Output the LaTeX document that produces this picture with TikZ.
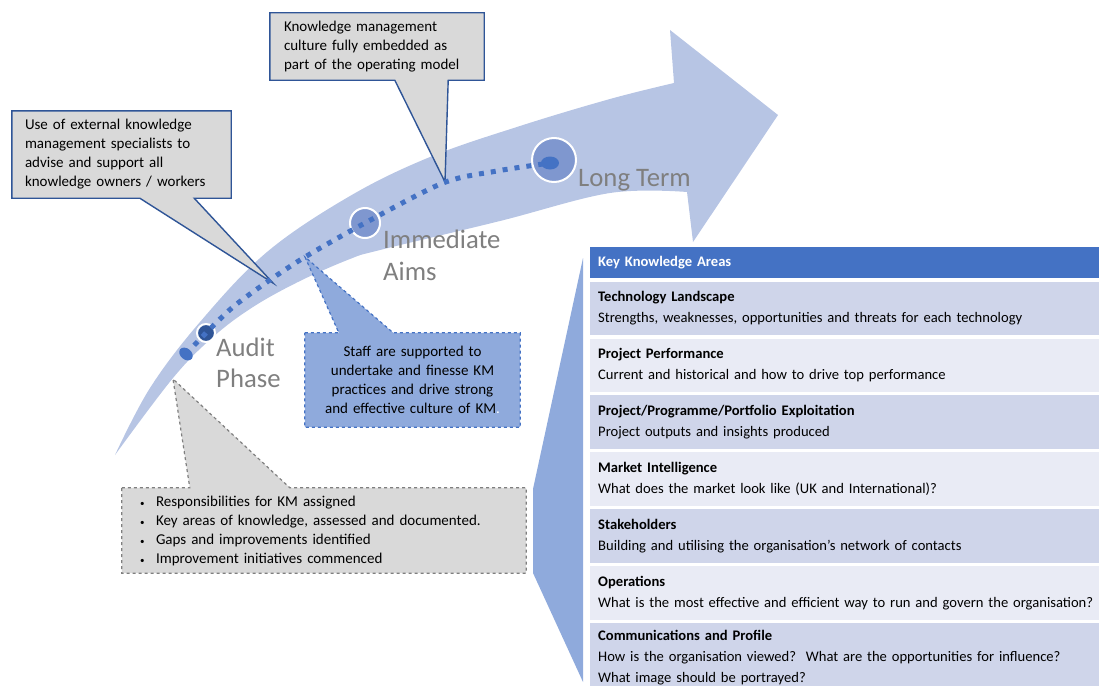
\documentclass[tikz,border=0pt]{standalone}
\usepackage{fontspec}
\setmainfont{Carlito}
\usetikzlibrary{positioning,backgrounds}

\definecolor{bandblue}{RGB}{183,197,228}
\definecolor{kablue}{RGB}{68,114,196}
\definecolor{midblue}{RGB}{143,170,220}
\definecolor{darkblue}{RGB}{47,85,151}
\definecolor{dotblue}{RGB}{127,151,207}
\definecolor{callgray}{RGB}{217,217,217}
\definecolor{rowdark}{RGB}{207,213,234}
\definecolor{rowlight}{RGB}{233,235,245}
\definecolor{phasegray}{RGB}{127,127,127}

\tikzstyle{note} = [rectangle, inner ysep=0pt, align=left, font=\fontsize{15}{19}\selectfont]
\tikzstyle{callout} = [fill=callgray, draw=darkblue, line width=1.4pt, line join=miter]
\tikzstyle{phase} = [text=phasegray, inner sep=0pt, font=\fontsize{26.7}{31}\selectfont]
\tikzstyle{stage} = [circle, fill=dotblue, draw=white, line width=2pt, inner sep=0pt]
\tikzstyle{area} = [rectangle, minimum width=526pt, minimum height=53.5pt, text width=510pt, inner xsep=8pt, inner ysep=0pt, align=left, font=\fontsize{14.6}{21}\selectfont]

\begin{document}
\begin{tikzpicture}[x=1pt,y=-1pt]
\useasboundingbox (0,0) rectangle (1099,685);

% callout boxes
\node[note, text width=186pt, inner xsep=14pt, minimum height=67pt] (Culture) at (377,46.5)
{Knowledge management\\culture fully embedded as\\part of the operating model};
\node[note, text width=193pt, inner xsep=13pt, minimum height=87pt] (External) at (121.5,154.5)
{Use of external knowledge\\management specialists to\\advise and support all\\knowledge owners / workers};
\node[note, align=center, text width=195pt, inner xsep=10pt, minimum height=94pt] (Staff) at (412.5,380)
{Staff are supported to\\undertake and finesse KM\\practices and drive strong\\and effective culture of KM{\color{white}.}};
\node[note, text width=368pt, inner xsep=18pt, minimum height=85pt] (Audit) at (324,530.5)
{\makebox[16pt][l]{\small\textbullet}Responsibilities for KM assigned\\
 \makebox[16pt][l]{\small\textbullet}Key areas of knowledge, assessed and documented.\\
 \makebox[16pt][l]{\small\textbullet}Gaps and improvements identified\\
 \makebox[16pt][l]{\small\textbullet}Improvement initiatives commenced};

\coordinate (CultureTip) at (445,182);
\coordinate (ExternalTip) at (273,283);
\coordinate (StaffTip) at (305,257);
\coordinate (AuditTip) at (173,379);

\begin{scope}[on background layer]
% curved arrow
\fill[bandblue] plot[smooth, tension=0.6] coordinates {(115,455) (150,388) (200,322) (267,252) (350,196) (430,157) (520,126) (610,99) (674,83)}
  -- (670,30) -- (778,115) -- (693,242)
  -- plot[smooth, tension=0.6] coordinates {(687,192) (610,193) (500,221) (380,250) (350,259) (300,281) (253,307) (213,337) (173,378) (115,455)} -- cycle;
% bracket in front of the table
\fill[midblue] (583,258) -- (533,489) -- (533,573) -- (583,682) -- cycle;

\draw[callout] (Culture.north west) -- (Culture.north east) -- (Culture.south east)
  -- ([xshift=-36pt]Culture.south east) -- (CultureTip) -- ([xshift=125pt]Culture.south west)
  -- (Culture.south west) -- cycle;
\draw[callout] (External.north west) -- (External.north east) -- (External.south east)
  -- ([xshift=-37pt]External.south east) -- (ExternalTip) -- ([xshift=128pt]External.south west)
  -- (External.south west) -- cycle;
\draw[callout, fill=midblue, draw=kablue, line width=1.2pt, dashed] (Staff.north west)
  -- ([xshift=34pt]Staff.north west) -- (StaffTip) -- ([xshift=-127pt]Staff.north east)
  -- (Staff.north east) -- (Staff.south east) -- (Staff.south west) -- cycle;
\draw[callout, draw=phasegray, line width=1.2pt, dashed] (Audit.north west)
  -- ([xshift=68pt]Audit.north west) -- (AuditTip) -- ([xshift=168pt]Audit.north west)
  -- (Audit.north east) -- (Audit.south east) -- (Audit.south west) -- cycle;
\end{scope}

% milestones along the arrow
\node[stage, minimum size=18pt, fill=darkblue] (AuditDot) at (206,333) {};
\node[stage, minimum size=30pt] (AimsDot) at (365,223) {};
\node[stage, minimum size=44pt] (LongDot) at (554,160) {};
\draw[kablue, line width=5pt, dash pattern=on 5pt off 7pt] plot[smooth, tension=0.5] coordinates
  {(186,354) (AuditDot.center) (233,307) (267,282) (305,257) (AimsDot.center) (443,183) (497,171) (543,164)};
\fill[kablue, rotate around={-40:(186,354)}] (186,354) ellipse [x radius=7.5, y radius=5.5];
\fill[kablue] (550,163) ellipse [x radius=9, y radius=6.5];

\node[phase, anchor=base west] (AuditLbl) at (216,356) {Audit};
\node[phase, anchor=base west] (PhaseLbl) at (216,387) {Phase};
\node[phase, anchor=base west] (ImmLbl) at (383,248) {Immediate};
\node[phase, anchor=base west] (AimsLbl) at (383,280) {Aims};
\node[phase, anchor=base west] (LongLbl) at (578,186) {Long Term};

% knowledge areas table
\node[area, fill=kablue, text=white, minimum height=31pt, anchor=north west] (Key) at (590,247) {\textbf{Key Knowledge Areas}};
\node[area, fill=rowdark, below=3pt of Key] (Tech) {\textbf{Technology Landscape}\\Strengths, weaknesses, opportunities and threats for each technology};
\node[area, fill=rowlight, below=3pt of Tech] (Perf) {\textbf{Project Performance}\\Current and historical and how to drive top performance};
\node[area, fill=rowdark, below=3pt of Perf] (Expl) {\textbf{Project/Programme/Portfolio Exploitation}\\Project outputs and insights produced};
\node[area, fill=rowlight, below=3pt of Expl] (Market) {\textbf{Market Intelligence}\\What does the market look like (UK and International)?};
\node[area, fill=rowdark, below=3pt of Market] (Stake) {\textbf{Stakeholders}\\Building and utilising the organisation’s network of contacts};
\node[area, fill=rowlight, below=3pt of Stake] (Ops) {\textbf{Operations}\\What is the most effective and efficient way to run and govern the organisation?};
\node[area, fill=rowdark, minimum height=70pt, below=3pt of Ops] (Comms) {\textbf{Communications and Profile}\\How is the organisation viewed?\ \ What are the opportunities for influence?\\What image should be portrayed?};

\end{tikzpicture}
\end{document}
